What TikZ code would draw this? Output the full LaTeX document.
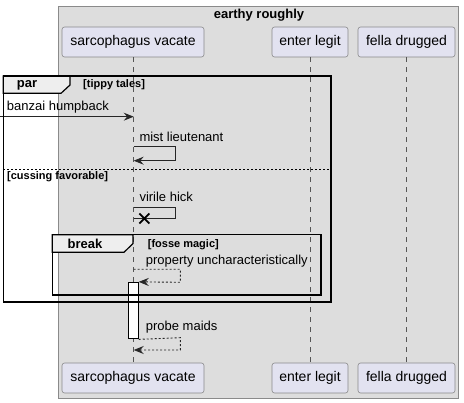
\documentclass[tikz,border=0pt]{standalone}
\usepackage{fontspec}
\setmainfont{Liberation Sans}
\usetikzlibrary{arrows.meta}
\definecolor{grp}{HTML}{DDDDDD}
\definecolor{grpb}{HTML}{8A8A8A}
\definecolor{pfill}{HTML}{E2E2F0}
\definecolor{pbord}{HTML}{8A8A8A}
\definecolor{tabfill}{HTML}{EEEEEE}
\definecolor{lifec}{HTML}{555555}
\tikzset{
  part/.style={draw=pbord, fill=pfill, rounded corners=2.5pt, line width=0.6pt,
    minimum height=30pt, inner sep=0pt, font=\fontsize{14}{16}\selectfont},
  lifel/.style={draw=lifec, line width=0.6pt, dash pattern=on 5pt off 5pt},
  msgl/.style={font=\fontsize{13}{15}\selectfont, anchor=west, inner sep=0pt},
  flab/.style={font=\bfseries\fontsize{11}{13}\selectfont, inner sep=0pt},
  fbig/.style={font=\bfseries\fontsize{13}{15}\selectfont, inner sep=0pt},
  frm/.style={draw=black, line width=1.6pt},
  tabs/.style={draw=black, line width=1.2pt, fill=tabfill},
  msg/.style={draw=black!85, line width=0.9pt, -{Stealth[length=10pt,width=8pt,inset=3.5pt]}},
  rmsg/.style={msg, dash pattern=on 2pt off 2pt},
}
\begin{document}
\begin{tikzpicture}[x=1pt,y=-1pt]
\useasboundingbox (0,0) rectangle (464,403);
\fill[white] (0,0) rectangle (464,403);
% group box
\draw[fill=grp, draw=grpb, line width=0.7pt] (58.7,6) rectangle (458.5,398);
\node[fbig] (title) at (259,15) {earthy roughly};
% participants
\node[part, minimum width=142pt] (sv) at (133,42) {sarcophagus vacate};
\node[part, minimum width=76pt] (el) at (310,42) {enter legit};
\node[part, minimum width=97pt] (fd) at (406.5,42) {fella drugged};
\node[part, minimum width=142pt] (svb) at (133,378) {sarcophagus vacate};
\node[part, minimum width=76pt] (elb) at (310,378) {enter legit};
\node[part, minimum width=97pt] (fdb) at (406.5,378) {fella drugged};
% lifelines
\draw[lifel] ([xshift=0.7pt]sv.south) -- ([xshift=0.7pt]svb.north);
\draw[lifel] (el.south) -- (elb.north);
\draw[lifel] (fd.south) -- (fdb.north);
% activation
\node[draw=black, fill=white, line width=0.9pt, minimum width=10pt, minimum height=56pt, inner sep=0pt] (act) at (133.3,310.3) {};
% par frame
\path[tabs] (3.3,76) -- (70,76) -- (70,85) -- (61,93.3) -- (3.3,93.3) -- cycle;
\node[fbig] (parl) at (27,85) {par};
\node[flab, anchor=west] (parg) at (83,85) {[tippy tales]};
% banzai humpback
\coordinate (src) at (0,116.7);
\coordinate (bz) at (133.7,116.7);
\node[msgl] (bzl) at (6.7,107.5) {banzai humpback};
\draw[msg] (src) -- (bz);
% mist lieutenant
\coordinate (m1) at (133.7,146.7);
\coordinate (m2) at (175.7,146.7);
\coordinate (m3) at (175.7,160.7);
\coordinate (m4) at (133.7,160.7);
\node[msgl] (ml) at (139.3,136.5) {mist lieutenant};
\draw[msg] (m1) -- (m2) -- (m3) -- (m4);
% separator
\coordinate (s1) at (3.3,169.3);
\coordinate (s2) at (330.7,169.3);
\draw[black, line width=0.7pt, dash pattern=on 2pt off 2pt] (s1) -- (s2);
\node[flab, anchor=west] (cf) at (7,176.5) {[cussing favorable]};
% virile hick
\coordinate (v1) at (133.7,207);
\coordinate (v2) at (175.3,207);
\coordinate (v3) at (175.3,218.5);
\coordinate (v4) at (133.7,218.5);
\node[msgl] (vl) at (139.3,196.7) {virile hick};
\draw[draw=black!85, line width=0.9pt] (v1) -- (v2) -- (v3) -- (v4);
\coordinate (vx) at (144.3,218.5);
\draw[black, line width=1.8pt] ([shift={(-5,-5)}]vx) -- ([shift={(5,5)}]vx)
  ([shift={(-5,5)}]vx) -- ([shift={(5,-5)}]vx);
% break frame
\path[tabs] (52.3,234.7) -- (133,234.7) -- (133,243.5) -- (124,252.3) -- (52.3,252.3) -- cycle;
\node[fbig] (brl) at (85,244.3) {break};
\node[flab, anchor=west] (brg) at (147.7,244.3) {[fosse magic]};
% property uncharacteristically
\coordinate (p1) at (133.7,269.3);
\coordinate (p2) at (180.3,269.3);
\coordinate (p3) at (180.3,282.3);
\node[msgl] (pl) at (145.7,260.7) {property uncharacteristically};
\draw[rmsg] (p1) -- (p2) -- (p3) -- (act.north east);
\draw[frm] (52.3,234.7) rectangle (321,295);
\draw[frm] (3.3,76) -- (330.7,76) -- (330.7,302.3) -- (3.3,302.3) -- cycle;
% probe maids
\coordinate (q2) at (180.3,337.7);
\coordinate (q3) at (180.3,350);
\coordinate (q4) at (133.7,350);
\node[msgl] (ql) at (145.7,327.3) {probe maids};
\draw[rmsg] ([yshift=-0.6pt]act.south east) -- (q2) -- (q3) -- (q4);
\end{tikzpicture}
\end{document}
